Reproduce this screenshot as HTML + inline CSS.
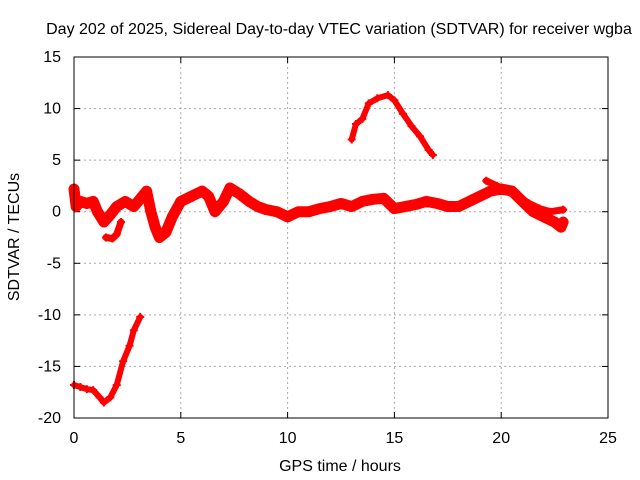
<!DOCTYPE html>
<html><head><meta charset="utf-8">
<style>
body{margin:0;background:#fff;}
svg{display:block;font-family:"Liberation Sans",sans-serif;font-size:16px;}
</style></head>
<body>
<svg id="chart" width="640" height="480" viewBox="0 0 640 480">
<rect width="640" height="480" fill="#fff"/>
<text x="339" y="34" text-anchor="middle" font-size="16">Day 202 of 2025, Sidereal Day-to-day VTEC variation (SDTVAR) for receiver wgba</text>
<text x="340" y="471" text-anchor="middle">GPS time / hours</text>
<text transform="translate(19,237) rotate(-90)" text-anchor="middle">SDTVAR / TECUs</text>
<g id="grid"></g>
<g id="ticks"></g>
<g id="series"></g>
<rect x="74" y="57" width="534" height="361" fill="none" stroke="#000" stroke-width="1"/>
</svg>
<script>
const xTicks=[0,5,10,15,20,25];
const yTicks=[15,10,5,0,-5,-10,-15,-20];
const trackA_t=[0,0.3,0.6,0.9,1.2,1.4,1.7,2.0,2.3,2.6,2.8,3.1];
const trackA_v=[-16.8,-17,-17.2,-17.3,-18,-18.5,-18,-16.8,-14.5,-13,-11.5,-10.2];
const trackB_t=[0,0.1,0.3,0.6,0.9,1.1,1.4,1.7,2,2.4,2.8,3.2,3.4,3.6,3.8,4.0,4.3,4.6,5,5.5,6,6.3,6.6,7,7.3,7.7,8.2,8.6,9,9.5,10,10.5,11,11.5,12,12.5,13,13.5,14,14.5,15,15.5,16,16.5,17,17.5,18,18.5,19,19.5,20,20.5,21,21.5,22,22.5,22.8,22.9];
const trackB_v=[2.2,0.5,1,0.8,1,0,-1,-0.3,0.5,1,0.5,1.5,2,0,-1.5,-2.5,-2,-0.5,1,1.5,2,1.5,0,1,2.3,1.8,1,0.5,0.2,0,-0.5,0,0,0.3,0.5,0.8,0.5,1,1.2,1.3,0.3,0.5,0.7,1,0.8,0.5,0.5,1,1.5,2,2.2,2,1,0,-0.5,-1,-1.5,-1];
const trackC_t=[1.5,1.8,2.0,2.2];
const trackC_v=[-2.5,-2.6,-2.2,-1];
const trackD_t=[19.3,19.8,20.3,20.8,21.3,21.8,22.3,22.9];
const trackD_v=[3,2.5,2,1.5,0.8,0.3,0,0.2];
const trackE_t=[13,13.2,13.5,13.8,14.2,14.7,15,15.4,15.8,16.2,16.6,16.8];
const trackE_v=[7,8.5,9,10.5,11,11.3,10.8,9.5,8.3,7.3,6,5.5];

const X=t=>74+t*(534/25);
const Y=v=>57+(15-v)*(361/35);
const NS="http://www.w3.org/2000/svg";
const grid=document.getElementById('grid'),ticks=document.getElementById('ticks'),ser=document.getElementById('series');
function mk(tag,a,p){const e=document.createElementNS(NS,tag);for(const k in a)e.setAttribute(k,a[k]);p.appendChild(e);return e;}
xTicks.forEach(t=>{
  if(t>0&&t<25){const g=mk('line',{x1:X(t),x2:X(t),y1:57,y2:418,stroke:'#aaa','stroke-dasharray':'2,3'},grid);
  
  }
  const l=mk('text',{x:X(t),y:443,'text-anchor':'middle'},ticks);l.textContent=t;
  
  
  mk('line',{x1:X(t),x2:X(t),y1:418,y2:412,stroke:'#000'},ticks);
  mk('line',{x1:X(t),x2:X(t),y1:57,y2:63,stroke:'#000'},ticks);
});
yTicks.forEach(v=>{
  if(v<15&&v>-20){const g=mk('line',{x1:74,x2:608,y1:Y(v),y2:Y(v),stroke:'#aaa','stroke-dasharray':'2,3'},grid);
  
  }
  const l=mk('text',{x:61,y:Y(v)+5,'text-anchor':'end'},ticks);l.textContent=v;
  
  
  mk('line',{x1:74,x2:80,y1:Y(v),y2:Y(v),stroke:'#000'},ticks);
  mk('line',{x1:608,x2:602,y1:Y(v),y2:Y(v),stroke:'#000'},ticks);
});
function track(ts,vs,name,w){
  const pts=ts.map((t,i)=>X(t)+','+Y(vs[i])).join(' ');
  const p=mk('polyline',{points:pts,fill:'none',stroke:'#f00','stroke-width':w,'stroke-linejoin':'round','stroke-linecap':'round'},ser);
  
  
  ts.forEach((t,i)=>{
    const x=X(t),y=Y(vs[i]);
    const m=mk('path',{d:`M${x-4},${y}H${x+4}M${x},${y-4}V${y+4}`,stroke:'#f00','stroke-width':2},ser);
    
    
  });
}
track(trackA_t,trackA_v,'track-a',6);
track(trackB_t,trackB_v,'track-b',11);
track(trackC_t,trackC_v,'track-c',7);
track(trackD_t,trackD_v,'track-d',7);
track(trackE_t,trackE_v,'track-e',6);
</script>
</body></html>
